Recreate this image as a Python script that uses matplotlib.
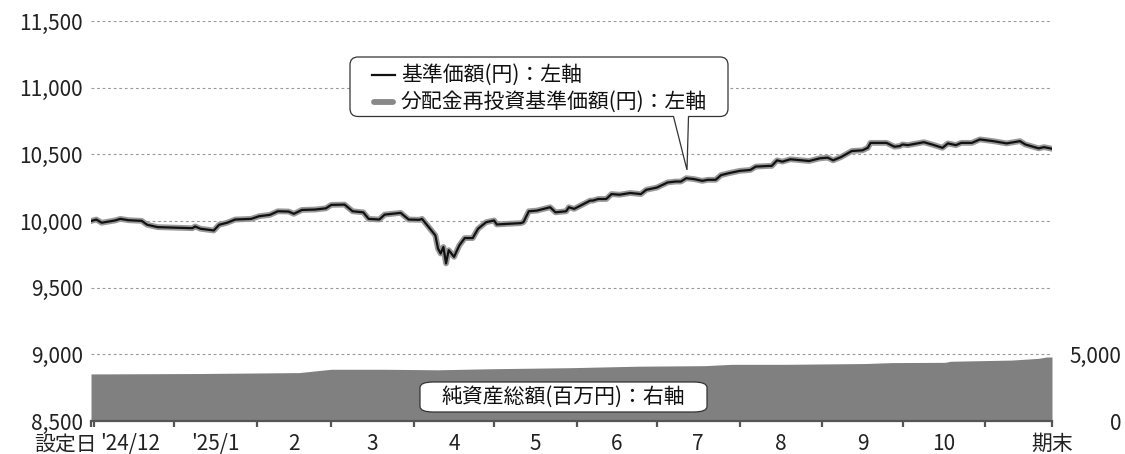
import matplotlib
matplotlib.use("Agg")
import matplotlib.pyplot as plt
from matplotlib.patches import FancyBboxPatch, PathPatch
from matplotlib.path import Path
from matplotlib.lines import Line2D

plt.rcParams["font.family"] = ["Noto Sans CJK JP", "DejaVu Sans"]

# days since launch (2024-12-01) and NAV (yen)
nav_days = [0, 2, 4, 9, 11, 14, 19, 21, 25, 38, 39, 41, 46, 48, 51, 54, 60, 63, 67, 70,
            74, 76, 79, 84, 88, 90, 95, 98, 102, 104, 108, 110, 116, 119, 123, 124, 127, 129,
            130, 131, 132, 133, 134, 136, 138, 140, 143, 145, 148, 151, 152, 161, 162, 164,
            167, 172, 174, 178, 179, 181, 187, 188, 190, 193, 195, 198, 202, 206, 208, 212,
            216, 219, 221, 223, 226, 229, 231, 234, 236, 239, 243, 247, 249, 254, 255, 257,
            259, 262, 269, 273, 276, 278, 281, 285, 289, 291, 292, 298, 301, 303, 304, 306,
            312, 315, 319, 321, 324, 326, 330, 333, 338, 343, 348, 350, 355, 357, 360]
nav = [10000, 10011, 9987, 10004, 10016, 10006, 10001, 9972, 9954, 9946, 9959, 9942, 9929,
       9972, 9987, 10011, 10016, 10036, 10046, 10073, 10071, 10054, 10083, 10086, 10095,
       10121, 10123, 10073, 10065, 10016, 10011, 10048, 10061, 10011, 10009, 10016, 9942,
       9892, 9793, 9756, 9805, 9682, 9781, 9731, 9818, 9872, 9872, 9942, 9991, 10004, 9974,
       9984, 9991, 10073, 10078, 10103, 10065, 10073, 10103, 10091, 10153, 10153, 10165,
       10165, 10202, 10197, 10210, 10202, 10234, 10251, 10289, 10296, 10296, 10321, 10314,
       10301, 10309, 10309, 10344, 10359, 10376, 10383, 10408, 10413, 10413, 10455, 10445,
       10463, 10450, 10470, 10475, 10455, 10480, 10525, 10530, 10549, 10586, 10586, 10557,
       10562, 10574, 10569, 10591, 10574, 10549, 10582, 10569, 10586, 10586, 10612, 10599,
       10582, 10599, 10574, 10545, 10554, 10542]

# net assets (million yen)
aum_days = [0, 40, 78, 90, 110, 130, 150, 180, 205, 230, 240, 260, 290, 300, 320, 322,
            345, 355, 358, 360]
aum = [3530, 3560, 3630, 3880, 3880, 3840, 3920, 4000, 4110, 4150, 4250, 4250, 4310, 4380,
       4400, 4480, 4570, 4700, 4800, 4800]

month_starts = [31, 62, 90, 121, 151, 182, 212, 243, 274, 304, 335]
month_mids = [14.5, 46.5, 76, 105.5, 136, 166.5, 197, 227.5, 258.5, 289, 319.5]
month_labels = ["'24/12", "'25/1", "2", "3", "4", "5", "6", "7", "8", "9", "10"]
end_day = 360

W, H = 1125, 454
fig = plt.figure(figsize=(W / 100, H / 100), dpi=100)
ax = fig.add_axes([91 / W, 1 - 421 / H, (1052 - 91) / W, (421 - 21) / H])
ax2 = ax.twinx()
ax.set_zorder(ax2.get_zorder() + 1)
ax.patch.set_visible(False)

# net assets area (right axis)
ax2.fill_between(aum_days, aum, 0, color="#808080", lw=0)
ax2.set_ylim(0, 30000)
ax2.set_yticks([0, 5000])
ax2.set_yticklabels(["0", "5,000"])
ax2.tick_params(axis="y", length=0, pad=50, labelsize=15, labelcolor="#222222")
for lbl in ax2.get_yticklabels():
    lbl.set_horizontalalignment("right")

# NAV lines (left axis)
ax.plot(nav_days, nav, color="#999999", lw=4.2, solid_joinstyle="round", zorder=3)
ax.plot(nav_days, nav, color="#111111", lw=1.6, solid_joinstyle="round", zorder=4)
ax.set_ylim(8500, 11500)
ax.set_yticks([8500, 9000, 9500, 10000, 10500, 11000, 11500])
ax.set_yticklabels([f"{v:,}" for v in ax.get_yticks().astype(int)])
ax.tick_params(axis="y", length=0, pad=6, labelsize=15, labelcolor="#222222")
for v in [9000, 9500, 10000, 10500, 11000, 11500]:
    ax.axhline(v, color="#999999", lw=0.8, ls=(0, (2.5, 2.5)), zorder=1)

ax.set_xlim(0, end_day)
ax.set_xticks([0, 1] + month_starts + [end_day])
ax.set_xticklabels([])
ax.tick_params(axis="x", direction="out", length=4.5, width=1.6, color="#555555")
for a in (ax, ax2):
    for s in a.spines.values():
        s.set_visible(False)
ax.spines["bottom"].set_visible(True)
ax.spines["bottom"].set_color("#555555")
ax.spines["bottom"].set_linewidth(1.6)

xt = ax.get_xaxis_transform()
for m, lab in zip(month_mids, month_labels):
    ax.text(m, -0.058, lab, transform=xt, ha="center", va="center", fontsize=15, color="#222222")
ax.text(2.0, -0.058, "設定日", transform=xt, ha="right", va="center", fontsize=15, color="#222222")
ax.text(end_day, -0.058, "期末", transform=xt, ha="center", va="center", fontsize=15, color="#222222")


def px(x, y):
    return (x / W, 1 - y / H)


# callout legend box
x0, x1, y0, y1, r = 350, 728, 57, 116.5, 8
tail = [(673.5, y1), (687, 170), (688.5, y1)]
verts = [px(x0 + r, y0), px(x1 - r, y0), px(x1, y0), px(x1, y0 + r),
         px(x1, y1 - r), px(x1, y1), px(x1 - r, y1),
         px(*tail[2]), px(*tail[1]), px(*tail[0]),
         px(x0 + r, y1), px(x0, y1), px(x0, y1 - r),
         px(x0, y0 + r), px(x0, y0), px(x0 + r, y0), px(x0 + r, y0)]
codes = [Path.MOVETO, Path.LINETO, Path.CURVE3, Path.CURVE3,
         Path.LINETO, Path.CURVE3, Path.CURVE3,
         Path.LINETO, Path.LINETO, Path.LINETO,
         Path.LINETO, Path.CURVE3, Path.CURVE3,
         Path.LINETO, Path.CURVE3, Path.CURVE3, Path.CLOSEPOLY]
fig.patches.append(PathPatch(Path(verts, codes), facecolor="white", edgecolor="#333333",
                             lw=0.9, transform=fig.transFigure, zorder=10))
fig.add_artist(Line2D([372 / W, 395 / W], [1 - 75 / H] * 2, color="#111111", lw=1.6, zorder=11))
fig.add_artist(Line2D([374 / W, 393 / W], [1 - 102 / H] * 2, color="#888888", lw=4.2,
                      solid_capstyle="round", zorder=11))
fig.text(401 / W, 1 - 75 / H, "基準価額(円)：左軸", ha="left", va="center", fontsize=15,
         color="#111111", zorder=12)
fig.text(401 / W, 1 - 102 / H, "分配金再投資基準価額(円)：左軸", ha="left", va="center",
         fontsize=15, color="#111111", zorder=12)

# net assets label box
fig.patches.append(FancyBboxPatch(px(420, 412), 287 / W, 30 / H,
                                  boxstyle="round,pad=0,rounding_size=0.012",
                                  facecolor="white", edgecolor="#333333", lw=0.9,
                                  transform=fig.transFigure, zorder=10))
fig.text(563.5 / W, 1 - 397 / H, "純資産総額(百万円)：右軸", ha="center", va="center",
         fontsize=15, color="#111111", zorder=12)

fig.savefig("out.png", dpi=100)
